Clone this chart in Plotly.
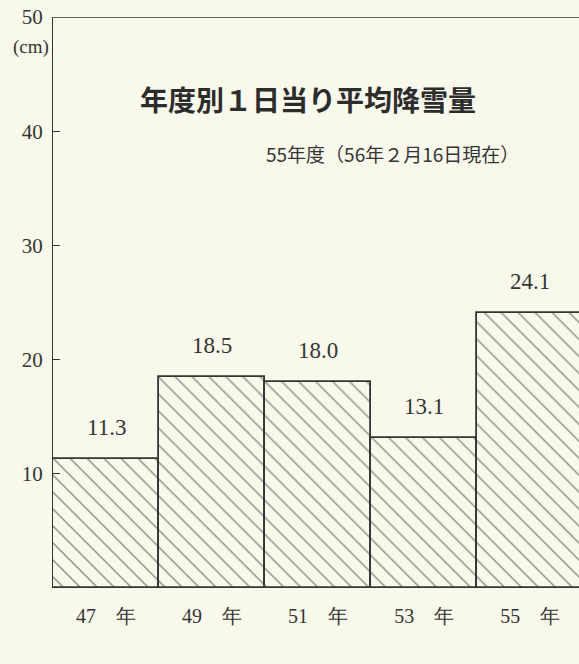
import plotly.graph_objects as go

# Average daily snowfall by fiscal year (cm)
years = ["47　年", "49　年", "51　年", "53　年", "55　年"]
snowfall = [11.3, 18.5, 18.0, 13.1, 24.1]
value_labels = ["11.3", "18.5", "18.0", "13.1", "24.1"]
y_ticks = [10, 20, 30, 40, 50]

paper = "#f8f8eb"
ink = "#353535"
serif = "Liberation Serif, DejaVu Serif, serif"
cjk = "Noto Sans CJK JP, sans-serif"

positions = list(range(len(years)))

fig = go.Figure()
fig.add_trace(go.Bar(
    x=positions,
    y=snowfall,
    width=1.0,
    marker=dict(
        color=paper,
        line=dict(color=ink, width=1.8),
        pattern=dict(shape="\\", fgcolor="#262626", bgcolor=paper,
                     size=12, solidity=0.12),
    ),
    hoverinfo="skip",
))

for xp, v, lab in zip(positions, snowfall, value_labels):
    fig.add_annotation(x=xp, y=v, text=lab, showarrow=False,
                       yanchor="bottom", yshift=17,
                       font=dict(family=serif, size=23, color=ink))

fig.add_annotation(xref="paper", yref="paper", x=0.485, y=0.895,
                   text="<b>年度別１日当り平均降雪量</b>", showarrow=False,
                   font=dict(family=cjk, size=28, color="#2c2c2c"))
fig.add_annotation(xref="paper", yref="paper", x=0.645, y=0.788,
                   text="55年度（56年２月16日現在）", showarrow=False,
                   font=dict(family=cjk, size=19, color=ink))
fig.add_annotation(xref="paper", yref="paper", x=0, y=1, xshift=-2, yshift=-30,
                   xanchor="right", yanchor="middle",
                   text="(cm)", showarrow=False,
                   font=dict(family=serif, size=19, color=ink))

# top frame line at 50 cm
fig.add_shape(type="line", xref="paper", yref="y", x0=0, x1=1, y0=50, y1=50,
              line=dict(color=ink, width=1.3))

fig.update_layout(
    width=579, height=664,
    margin=dict(l=53, r=0, t=17, b=76),
    paper_bgcolor=paper, plot_bgcolor=paper,
    showlegend=False, bargap=0,
    xaxis=dict(
        range=[-0.5, 4.46], tickmode="array", tickvals=positions, ticktext=years,
        showgrid=False, zeroline=False, showline=False, ticks="",
        ticklabelstandoff=14,
        tickfont=dict(family=serif, size=20, color=ink),
    ),
    yaxis=dict(
        range=[0, 50], tickmode="array", tickvals=y_ticks,
        showgrid=False, zeroline=False, showline=True, linecolor=ink, linewidth=1.3,
        ticks="inside", ticklen=7, tickcolor=ink, tickwidth=1.2,
        ticklabelstandoff=5,
        tickfont=dict(family=serif, size=21, color=ink),
    ),
)

fig.write_html("out.html")
